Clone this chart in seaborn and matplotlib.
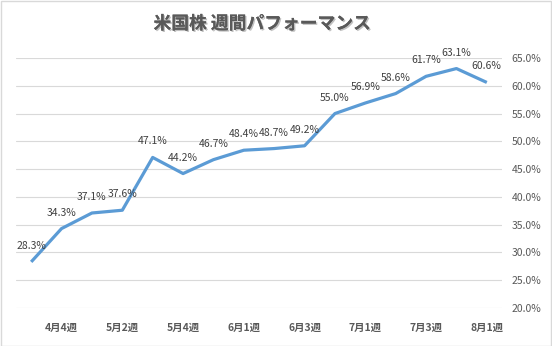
import matplotlib
matplotlib.use("Agg")
import matplotlib.pyplot as plt
import matplotlib.patheffects as pe
from matplotlib.patches import Rectangle
from matplotlib.ticker import FuncFormatter, MultipleLocator
import seaborn as sns
import pandas as pd

weeks = ["4月3週", "4月4週", "5月1週", "5月2週", "5月3週", "5月4週", "5月5週", "6月1週",
         "6月2週", "6月3週", "6月4週", "7月1週", "7月2週", "7月3週", "7月4週", "8月1週"]
performance = [28.3, 34.3, 37.1, 37.6, 47.1, 44.2, 46.7, 48.4,
               48.7, 49.2, 55.0, 56.9, 58.6, 61.7, 63.1, 60.6]
title = "米国株 週間パフォーマンス"

sns.set_style("white")
plt.rcParams["font.family"] = ["Noto Sans CJK JP", "DejaVu Sans"]

df = pd.DataFrame({"week": weeks, "perf": performance})

fig = plt.figure(figsize=(5.52, 3.46), dpi=100)
ax = fig.add_axes([16 / 552, 1 - 308 / 346, (502 - 16) / 552, (308 - 58) / 346])

sns.lineplot(data=df, x="week", y="perf", sort=False, ax=ax,
             color="#5B9BD5", linewidth=2.3, solid_capstyle="butt")

ax.set_xlim(-0.5, len(weeks) - 0.5)
ax.set_ylim(20, 65)
ax.yaxis.set_major_locator(MultipleLocator(5))
ax.yaxis.set_major_formatter(FuncFormatter(lambda v, p: f"{v:.1f}%"))
ax.yaxis.tick_right()
ax.grid(axis="y", color="#d9d9d9", linewidth=0.8)
ax.set_axisbelow(True)
for s in ax.spines.values():
    s.set_visible(False)

ax.set_xticks(range(len(weeks)))
ax.set_xticklabels([w if i % 2 == 1 else "" for i, w in enumerate(weeks)])
ax.tick_params(axis="x", length=0, pad=11, labelsize=7.5, labelcolor="#595959")
ax.tick_params(axis="y", length=0, pad=7, labelsize=7.5, labelcolor="#595959")
for t in ax.get_xticklabels():
    t.set_fontweight("bold")
ax.set_xlabel("")
ax.set_ylabel("")

for i, v in enumerate(performance):
    ax.annotate(f"{v:.1f}%", (i, v), xytext=(0, 11.5), textcoords="offset points",
                ha="center", va="center", fontsize=7.5, color="#404040")

fig.text(262 / 552, 1 - 24 / 346, title, ha="center", va="center",
         fontsize=12.8, fontweight="bold", color="#595959",
         path_effects=[pe.withSimplePatchShadow(offset=(1, -1), shadow_rgbFace="#999999", alpha=0.6),
                       pe.Normal()])

fig.patches.append(Rectangle((0.5 / 552, 0.5 / 346), 1 - 1.5 / 552, 1 - 1.5 / 346,
                             transform=fig.transFigure, fill=False,
                             edgecolor="#d9d9d9", linewidth=1))

fig.savefig("out.png", dpi=100)
